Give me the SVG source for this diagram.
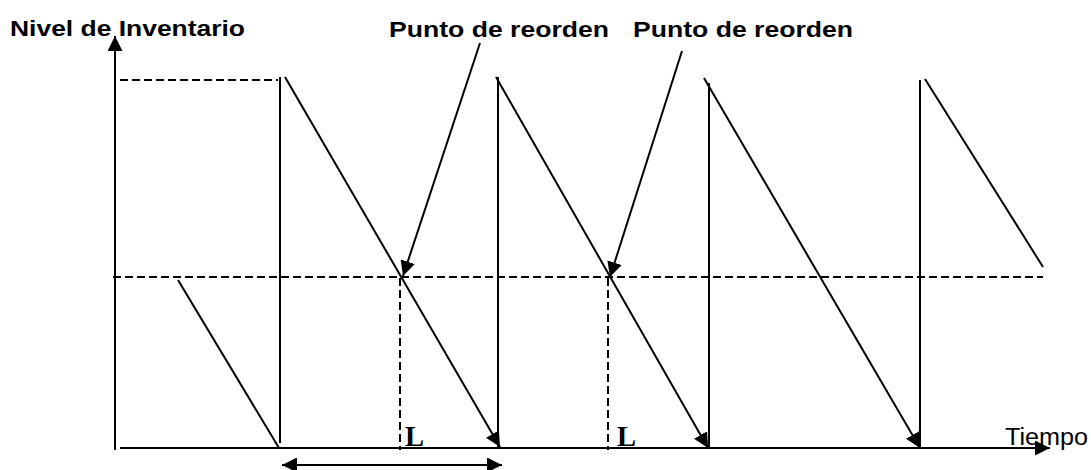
<svg xmlns="http://www.w3.org/2000/svg" width="1091" height="470" viewBox="0 0 1091 470">
<style>
.ln{stroke:#000;stroke-width:2;fill:none}
.ds{stroke:#000;stroke-width:2;fill:none;stroke-dasharray:8,4}
.lb{font-family:"Liberation Sans",Arial,sans-serif;font-weight:bold;font-size:21.5px;fill:#000}
.tm{font-family:"Liberation Sans",Arial,sans-serif;font-size:23px;fill:#000}
.ll{font-family:"Liberation Serif","Times New Roman",serif;font-weight:bold;font-size:30px;fill:#000}
</style>
<defs>
<marker id="ah" markerWidth="15" markerHeight="15" refX="15" refY="7.5" orient="auto" markerUnits="userSpaceOnUse">
<path d="M0,0 L15,7.5 L0,15 Z" fill="#000"/>
</marker>
<marker id="ahs" markerWidth="15" markerHeight="15" refX="0" refY="7.5" orient="auto" markerUnits="userSpaceOnUse">
<path d="M15,0 L0,7.5 L15,15 Z" fill="#000"/>
</marker>
</defs>
<g id="axes">
<line class="ln" x1="115" y1="450" x2="115" y2="36" marker-end="url(#ah)"/>
<line class="ln" x1="120" y1="448" x2="1050" y2="448" marker-end="url(#ah)"/>
</g>
<g id="guides">
<line class="ds" x1="120" y1="80" x2="278" y2="80"/>
<line class="ds" x1="113" y1="277" x2="1043" y2="277"/>
<line class="ds" x1="400" y1="278" x2="400" y2="450"/>
<line class="ds" x1="608" y1="278" x2="608" y2="450"/>
</g>
<g id="connectors">
<line class="ln" x1="178" y1="280" x2="279" y2="448"/>
<line class="ln" x1="280" y1="77" x2="280" y2="443"/>
<line class="ln" x1="285" y1="77" x2="500" y2="447" marker-end="url(#ah)"/>
<line class="ln" x1="498" y1="77" x2="498" y2="448"/>
<line class="ln" x1="496" y1="77" x2="708" y2="448" marker-end="url(#ah)"/>
<line class="ln" x1="709" y1="83" x2="709" y2="448"/>
<line class="ln" x1="704" y1="78" x2="920" y2="448" marker-end="url(#ah)"/>
<line class="ln" x1="920" y1="80" x2="920" y2="448"/>
<line class="ln" x1="925" y1="79" x2="1043" y2="267"/>
<line class="ln" x1="480" y1="43" x2="403" y2="276" marker-end="url(#ah)"/>
<line class="ln" x1="682" y1="51" x2="610" y2="277" marker-end="url(#ah)"/>
<line class="ln" x1="282" y1="465" x2="502" y2="465" marker-start="url(#ahs)" marker-end="url(#ah)"/>
</g>
<g id="labels">
<text class="lb" x="10" y="36" textLength="235" lengthAdjust="spacingAndGlyphs">Nivel de Inventario</text>
<text class="lb" x="389" y="36.5" textLength="220" lengthAdjust="spacingAndGlyphs">Punto de reorden</text>
<text class="lb" x="633" y="36.5" textLength="220" lengthAdjust="spacingAndGlyphs">Punto de reorden</text>
<text class="tm" x="1005" y="445" textLength="83" lengthAdjust="spacingAndGlyphs">Tiempo</text>
<text class="ll" x="405" y="446" textLength="19" lengthAdjust="spacingAndGlyphs">L</text>
<text class="ll" x="617" y="446" textLength="19" lengthAdjust="spacingAndGlyphs">L</text>
</g>
</svg>
